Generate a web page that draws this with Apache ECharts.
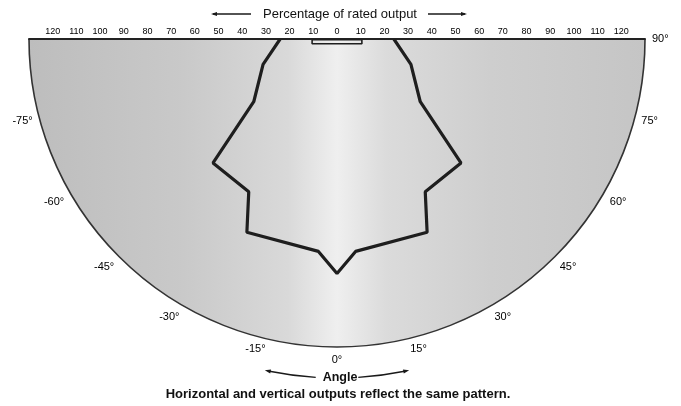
<!DOCTYPE html>
<html>
<head>
<meta charset="utf-8">
<script src="https://cdn.jsdelivr.net/npm/echarts@6/dist/echarts.min.js"></script>
<style>
html,body{margin:0;padding:0;background:#fff;}
#chart{width:681px;height:406px;}
</style>
</head>
<body>
<div id="chart"></div>
<script>
// ---- data ----
const outputAngles  = [-90, -71, -53, -45, -30, -25, -5, 0, 5, 25, 30, 45, 53, 71, 90];
const outputPercent = [ 24,  33,  44,  74, 74.5, 90, 90, 99, 90, 90, 74.5, 74, 44, 33, 24];
const capAngles  = [-88.4, -79.2, 79.2, 88.4, -88.4];
const capPercent = [ 10.5,  10.7, 10.7, 10.5,  10.5];
const angleLabelValues = [-75, -60, -45, -30, -15, 0, 15, 30, 45, 60, 75, 90];
const percentTickMax = 120;

const titleText = 'Percentage of rated output';
const angleText = 'Angle';
const captionText = 'Horizontal and vertical outputs reflect the same pattern.';

// ---- layout ----
const CX = 337, CY = 39, R = 308, RMAX = 130;
const font = 'Liberation Sans, Arial, sans-serif';

const chart = echarts.init(document.getElementById('chart'));

function arrowHead(tipX, tipY, dx, dy, len, half) {
  const bx = tipX - dx * len, by = tipY - dy * len;
  const px = -dy, py = dx;
  return {type:'polygon', z:100, shape:{points:[[tipX,tipY],[bx+px*half,by+py*half],[bx-px*half,by-py*half]]}, style:{fill:'#1a1a1a'}, silent:true};
}

const graphics = [];
graphics.push({type:'line', z:100, shape:{x1:213,y1:14,x2:251,y2:14}, style:{stroke:'#1a1a1a',lineWidth:1.3}});
graphics.push(arrowHead(211,14,-1,0,6,2));
graphics.push({type:'line', z:100, shape:{x1:428,y1:14,x2:465,y2:14}, style:{stroke:'#1a1a1a',lineWidth:1.3}});
graphics.push(arrowHead(467,14,1,0,6,2));
graphics.push({type:'text', z:100, x:340, y:14, style:{text:titleText, font:'13px ' + font, fill:'#111', align:'center', verticalAlign:'middle'}});
const AR = 339;
const d2r = Math.PI/180;
graphics.push({type:'arc', z:100, shape:{cx:CX, cy:CY, r:AR, startAngle:93.6*d2r, endAngle:101.5*d2r}, style:{stroke:'#1a1a1a', lineWidth:1.4, fill:null}});
graphics.push({type:'arc', z:100, shape:{cx:CX, cy:CY, r:AR, startAngle:78.5*d2r, endAngle:86.4*d2r}, style:{stroke:'#1a1a1a', lineWidth:1.4, fill:null}});
(function(){
  const tL = 102.3*d2r, tR = 77.7*d2r;
  const lx = CX + AR*Math.cos(tL), ly = CY + AR*Math.sin(tL);
  graphics.push(arrowHead(lx, ly, -Math.sin(tL), Math.cos(tL), 6, 2));
  const rx = CX + AR*Math.cos(tR), ry = CY + AR*Math.sin(tR);
  graphics.push(arrowHead(rx, ry, Math.sin(tR), -Math.cos(tR), 6, 2));
})();
graphics.push({type:'text', z:100, x:340, y:378, style:{text:angleText, font:'bold 12.5px ' + font, fill:'#111', align:'center', verticalAlign:'middle'}});
graphics.push({type:'text', z:100, x:338, y:394, style:{text:captionText, font:'bold 13px ' + font, fill:'#111', align:'center', verticalAlign:'middle'}});

// global (pixel-space) gradient for the background half-disc
const bgGradient = new echarts.graphic.LinearGradient(CX - R, 0, CX + R, 0, [
  {offset:0, color:'#bdbdbd'},
  {offset:0.25, color:'#c9c9c9'},
  {offset:0.42, color:'#d9d9d9'},
  {offset:0.5, color:'#efefef'},
  {offset:0.58, color:'#dbdbdb'},
  {offset:0.75, color:'#cecece'},
  {offset:1, color:'#c5c5c5'}
], true);

const angleBase = {
  type: 'value', min: -90, max: 90,
  startAngle: 180, endAngle: 360, clockwise: false,
  axisTick: { show: false }, splitLine: { show: false }
};

const option = {
  animation: false,
  backgroundColor: '#ffffff',
  polar: [
    { center: [CX, CY], radius: R },
    { center: [CX, CY], radius: R }
  ],
  angleAxis: [
    Object.assign({}, angleBase, {
      polarIndex: 0, interval: 15,
      axisLine: { show: true, lineStyle: { color: '#333', width: 1.6 } },
      splitArea: { show: false },
      axisLabel: {
        show: true, margin: 7, color: '#000', fontSize: 11, fontFamily: font,
        formatter: v => angleLabelValues.indexOf(v) >= 0 ? v + '°' : ''
      },
      z: 3
    }),
    Object.assign({}, angleBase, {
      polarIndex: 1, interval: 180,
      axisLine: { show: false }, axisLabel: { show: false },
      splitArea: { show: true, areaStyle: { color: [bgGradient, 'rgba(255,255,255,0)'] } },
      z: 1
    })
  ],
  radiusAxis: [
    { polarIndex: 0, type: 'value', min: 0, max: RMAX, interval: RMAX,
      axisLine: { show: false }, axisTick: { show: false }, axisLabel: { show: false },
      splitLine: { show: false }, splitArea: { show: false } },
    { polarIndex: 1, type: 'value', min: 0, max: RMAX, interval: RMAX,
      axisLine: { show: false }, axisTick: { show: false }, axisLabel: { show: false },
      splitLine: { show: false }, splitArea: { show: false } }
  ],
  grid: { left: CX - R, width: 2 * R, top: CY, height: 200 },
  xAxis: {
    type: 'value', position: 'top', min: -RMAX, max: RMAX, interval: 10,
    axisLine: { show: true, onZero: false, lineStyle: { color: '#222', width: 2 } },
    axisTick: { show: false },
    splitLine: { show: false },
    axisLabel: {
      margin: 3, color: '#000', fontSize: 9, fontFamily: font,
      formatter: v => Math.abs(v) <= percentTickMax ? String(Math.abs(v)) : ''
    },
    z: 4
  },
  yAxis: { type: 'value', show: false, min: 0, max: 1 },
  series: [
    {
      type: 'line', coordinateSystem: 'polar', polarIndex: 0, symbol: 'none',
      data: outputAngles.map((a, i) => [outputPercent[i], a]),
      lineStyle: { color: '#1e1e1e', width: 3.2 }, z: 5
    },
    {
      type: 'line', coordinateSystem: 'polar', polarIndex: 0, symbol: 'none',
      data: capAngles.map((a, i) => [capPercent[i], a]),
      lineStyle: { color: '#1e1e1e', width: 1.6 }, z: 5
    }
  ],
  graphic: graphics
};
chart.setOption(option);
</script>
</body>
</html>
